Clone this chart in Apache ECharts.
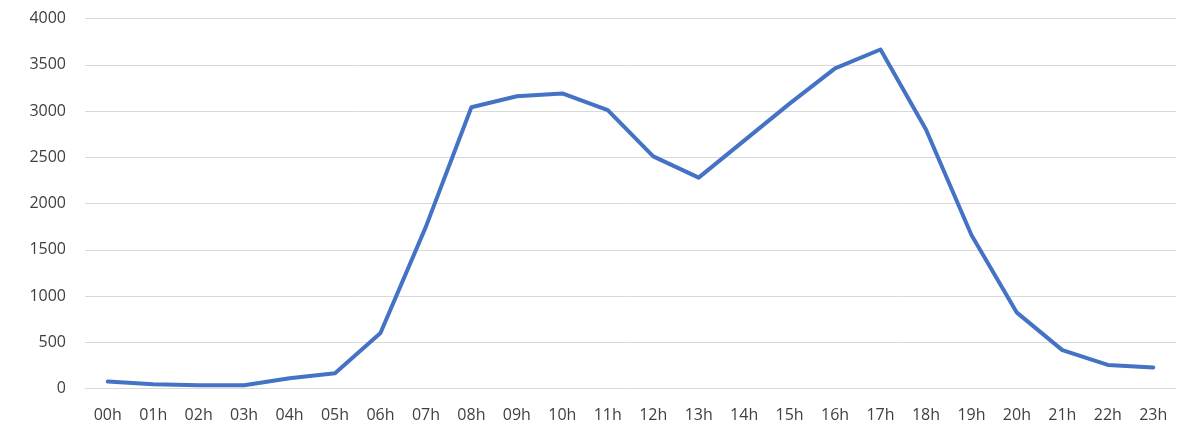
<!DOCTYPE html>
<html>
<head>
<meta charset="utf-8">
<script src="https://cdn.jsdelivr.net/npm/echarts@6/dist/echarts.min.js"></script>
<style>html,body{margin:0;padding:0;background:#fff;}#c{width:1178px;height:430px;}</style>
</head>
<body>
<div id="c"></div>
<script>
const categories = ['00h','01h','02h','03h','04h','05h','06h','07h','08h','09h','10h','11h','12h','13h','14h','15h','16h','17h','18h','19h','20h','21h','22h','23h'];
const values = [75, 45, 35, 35, 110, 165, 600, 1750, 3040, 3160, 3190, 3010, 2510, 2280, 2680, 3080, 3460, 3665, 2800, 1660, 820, 415, 255, 228];

const chart = echarts.init(document.getElementById('c'));
chart.setOption({
  animation: false,
  grid: {left: 85, right: 2, top: 18.5, bottom: 41.5},
  xAxis: {
    type: 'category',
    data: categories,
    boundaryGap: true,
    axisLine: {lineStyle: {color: '#d9d9d9', width: 1}},
    axisTick: {show: false},
    axisLabel: {color: '#404040', fontSize: 16, fontFamily: 'Open Sans, sans-serif', margin: 19}
  },
  yAxis: {
    type: 'value',
    min: 0, max: 4000, interval: 500,
    axisLine: {show: false},
    axisTick: {show: false},
    splitLine: {lineStyle: {color: '#d9d9d9', width: 1}},
    axisLabel: {color: '#404040', fontSize: 16, fontFamily: 'Open Sans, sans-serif', margin: 19, formatter: function (v) { return String(v); }}
  },
  series: [{
    type: 'line',
    data: values,
    symbol: 'none',
    lineStyle: {color: '#4472C4', width: 4, join: 'round', cap: 'round'}
  }]
});
</script>
</body>
</html>
